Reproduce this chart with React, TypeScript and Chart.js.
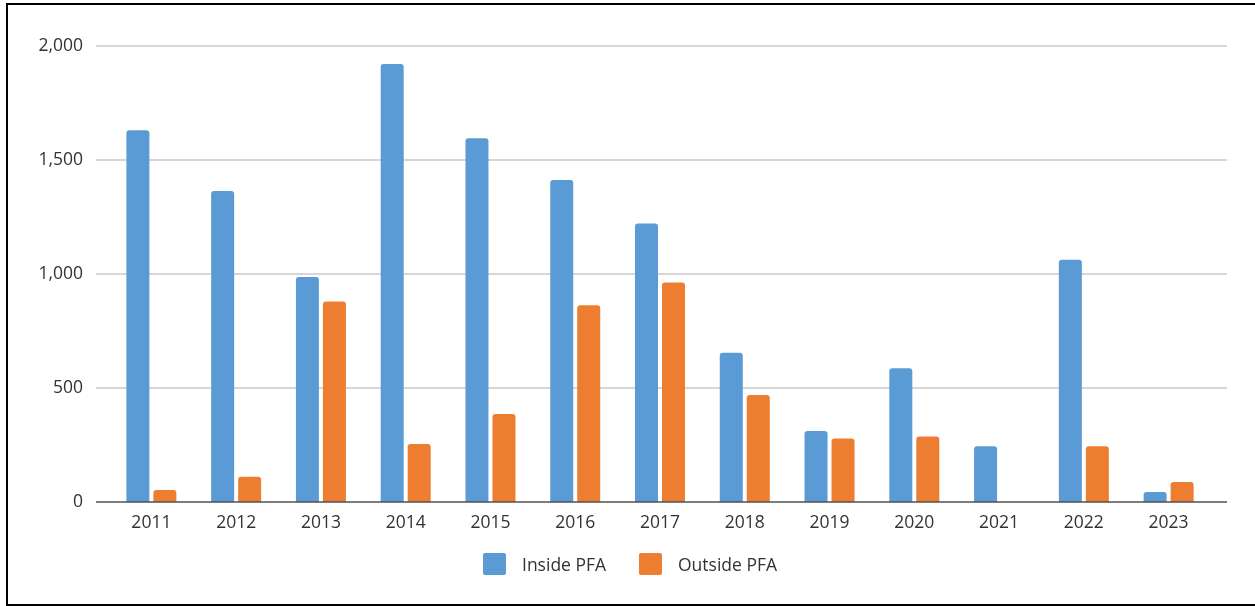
import React, { useEffect, useRef } from "react";
import { Chart, registerables } from "chart.js";

Chart.register(...registerables);

// Yearly counts, inside vs outside the PFA
const years = ["2011", "2012", "2013", "2014", "2015", "2016", "2017", "2018", "2019", "2020", "2021", "2022", "2023"];
const insidePFA = [1630, 1364, 987, 1921, 1595, 1412, 1222, 655, 311, 587, 244, 1063, 44];
const outsidePFA = [53, 111, 879, 254, 386, 863, 963, 469, 279, 287, null, 244, 88];
const yTickValues = [0, 500, 1000, 1500, 2000];

const seriesNames = ["Inside PFA", "Outside PFA"];
const seriesColors = ["#5B9BD5", "#ED7D31"];

const FONT = "'Open Sans', 'Noto Sans', sans-serif";
const FONT_SIZE = 17.5;
const TEXT_COLOR = "#333333";

// Horizontal extent of the rules: the category band plus a small overhang on each side
function ruleExtent(chart: any) {
  const x = chart.scales.x;
  const first = x.getPixelForValue(0);
  const last = x.getPixelForValue(years.length - 1);
  const step = (last - first) / (years.length - 1);
  return { x0: first - step / 2 - 13, x1: last + step / 2 + 16 };
}

// Horizontal gridlines and the zero baseline
const gridPlugin = {
  id: "extendedGrid",
  beforeDatasetsDraw(chart: any) {
    const { ctx, scales } = chart;
    const y = scales.y;
    const { x0, x1 } = ruleExtent(chart);
    ctx.save();
    ctx.lineWidth = 1.5;
    ctx.strokeStyle = "#c8c8c8";
    for (const v of yTickValues) {
      if (v === 0) continue;
      const py = Math.round(y.getPixelForValue(v));
      ctx.beginPath();
      ctx.moveTo(x0, py);
      ctx.lineTo(x1, py);
      ctx.stroke();
    }
    ctx.restore();
  },
  afterDatasetsDraw(chart: any) {
    const { ctx, scales } = chart;
    const { x0, x1 } = ruleExtent(chart);
    const py = Math.round(scales.y.getPixelForValue(0));
    ctx.save();
    ctx.lineWidth = 1.5;
    ctx.strokeStyle = "#505050";
    ctx.beginPath();
    ctx.moveTo(x0, py);
    ctx.lineTo(x1, py);
    ctx.stroke();
    ctx.restore();
  },
};

export default function App() {
  const canvasRef = useRef<HTMLCanvasElement | null>(null);

  useEffect(() => {
    document.body.style.margin = "0";
    document.body.style.overflow = "hidden";
    const canvas = canvasRef.current;
    if (!canvas) return;
    const chart = new Chart(canvas, {
      type: "bar",
      data: {
        labels: years,
        datasets: [
          {
            label: seriesNames[0],
            data: insidePFA,
            backgroundColor: seriesColors[0],
            borderRadius: { topLeft: 3, topRight: 3, bottomLeft: 0, bottomRight: 0 },
            borderSkipped: false,
            categoryPercentage: 0.637,
            barPercentage: 0.852,
          },
          {
            label: seriesNames[1],
            data: outsidePFA as any,
            backgroundColor: seriesColors[1],
            borderRadius: { topLeft: 3, topRight: 3, bottomLeft: 0, bottomRight: 0 },
            borderSkipped: false,
            categoryPercentage: 0.637,
            barPercentage: 0.852,
          },
        ],
      },
      options: {
        responsive: false,
        animation: false,
        devicePixelRatio: 1,
        layout: { padding: { left: 0, right: 44, top: 46, bottom: 64 } },
        plugins: {
          legend: { display: false },
          tooltip: { enabled: false },
          title: { display: false },
        },
        scales: {
          x: {
            grid: { display: false, drawTicks: false },
            border: { display: false },
            ticks: {
              padding: 11,
              color: TEXT_COLOR,
              font: { family: FONT, size: FONT_SIZE },
              maxRotation: 0,
              autoSkip: false,
            },
            afterFit: (scale: any) => {
              scale.height = 40;
            },
          },
          y: {
            min: 0,
            max: 2000,
            grid: { display: false, drawTicks: false },
            border: { display: false },
            ticks: {
              stepSize: 500,
              padding: 26,
              color: TEXT_COLOR,
              font: { family: FONT, size: FONT_SIZE },
              callback: (v: any) => Number(v).toLocaleString("en-US"),
            },
            afterFit: (scale: any) => {
              scale.width = 109;
            },
          },
        },
      },
      plugins: [gridPlugin],
    });
    return () => chart.destroy();
  }, []);

  const legendItem = (i: number, left: number) => (
    <div
      key={i}
      style={{
        position: "absolute",
        left,
        top: 553,
        height: 22,
        display: "flex",
        alignItems: "center",
        fontFamily: FONT,
        fontSize: FONT_SIZE,
        color: TEXT_COLOR,
        whiteSpace: "nowrap",
      }}
    >
      <span
        style={{
          display: "inline-block",
          width: 23,
          height: 22,
          borderRadius: 2,
          background: seriesColors[i],
          marginRight: 16,
        }}
      />
      <span>{seriesNames[i]}</span>
    </div>
  );

  return (
    <div style={{ position: "fixed", left: 0, top: 0, width: 1255, height: 606, background: "#fff", overflow: "hidden" }}>
      <canvas ref={canvasRef} width={1255} height={606} style={{ position: "absolute", left: 0, top: 0 }} />
      {legendItem(0, 483)}
      {legendItem(1, 639)}
      <div
        style={{
          position: "absolute",
          left: 6,
          top: 3,
          width: 1300,
          height: 603,
          boxSizing: "border-box",
          border: "2px solid #000",
          pointerEvents: "none",
        }}
      />
    </div>
  );
}
